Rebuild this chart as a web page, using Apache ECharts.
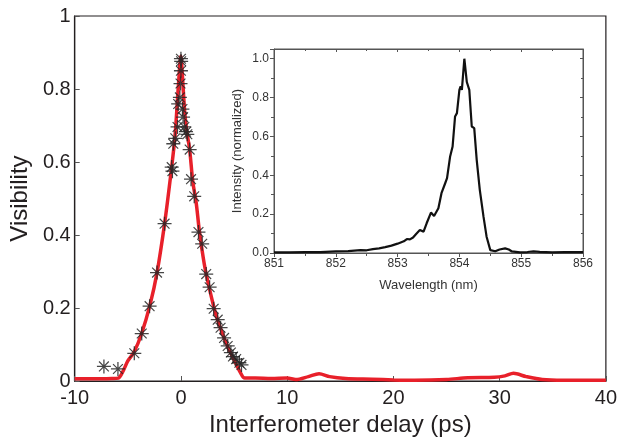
<!DOCTYPE html>
<html>
<head>
<meta charset="utf-8">
<script src="https://cdn.jsdelivr.net/npm/echarts@6/dist/echarts.min.js"></script>
<style>
  html, body { margin: 0; padding: 0; background: #fff; }
  #chart { width: 620px; height: 442px; }
</style>
</head>
<body>
<div id="chart"></div>
<script>
// measured visibility (stars)
var visX = [-7.25, -5.93, -4.39, -3.69, -2.95, -2.25, -1.54, -0.87, -0.80, -0.72, -0.53, -0.32, -0.26, -0.10, -0.04, 0, 0, 0.02,
            0.14, 0.2, 0.32, 0.48, 0.6, 0.82, 0.95, 1.25, 1.65, 2.0, 2.38, 2.7, 3.08, 3.46, 3.73, 4.06, 4.4, 4.7, 4.9, 5.2, 5.5, 5.7];
var visY = [0.040, 0.033, 0.076, 0.130, 0.205, 0.297, 0.431, 0.586, 0.575, 0.650, 0.665, 0.696, 0.759, 0.777, 0.815, 0.850, 0.883, 0.876,
            0.745, 0.723, 0.696, 0.683, 0.676, 0.634, 0.553, 0.506, 0.408, 0.376, 0.293, 0.257, 0.198, 0.168, 0.146, 0.118, 0.096, 0.078, 0.067, 0.060, 0.050, 0.044];

// fitted curve (red)
var fitX = [-10, -8, -6.5, -5.9, -5.4, -5.0, -4.4, -3.7, -2.9, -2.25, -1.54, -0.97, -0.56, -0.26, 0, 0.14, 0.36, 0.57, 0.82, 1.12, 1.43, 1.74, 2.2,
            2.65, 3.26, 3.88, 4.49, 5.1, 5.56, 6.0, 7, 8.5, 10, 10.8, 12, 13, 14, 15.5, 18, 20, 22, 25, 27, 29.5, 30.5, 31.3, 32.5, 34, 36, 40];
var fitY = [0.006, 0.006, 0.007, 0.008, 0.03, 0.055, 0.08, 0.13, 0.21, 0.297, 0.431, 0.562, 0.67, 0.80, 0.89, 0.835, 0.735, 0.68, 0.634, 0.545, 0.49, 0.41, 0.32,
            0.257, 0.185, 0.132, 0.088, 0.052, 0.025, 0.008, 0.008, 0.007, 0.008, 0.004, 0.012, 0.02, 0.012, 0.007, 0.005, 0.003, 0.002, 0.004, 0.009, 0.01, 0.014, 0.021, 0.012, 0.004, 0.002, 0.002];

// inset spectrum
var wl = [851.0, 851.25, 851.5, 851.75, 852.0, 852.2, 852.4, 852.5, 852.6, 852.7, 852.8, 852.9, 853.0, 853.1, 853.15, 853.2, 853.25, 853.3, 853.36,
          853.42, 853.47, 853.54, 853.59, 853.66, 853.71, 853.77, 853.80, 853.85, 853.89, 853.93, 853.96, 854.00, 854.02, 854.04, 854.08, 854.12,
          854.16, 854.20, 854.24, 854.28, 854.33, 854.39, 854.44, 854.50, 854.58, 854.65, 854.74, 854.8, 854.85, 854.98, 855.1, 855.2, 855.3, 855.5, 855.7, 856.0];
var inten = [0.003, 0.003, 0.004, 0.005, 0.008, 0.010, 0.015, 0.014, 0.020, 0.024, 0.030, 0.038, 0.048, 0.060, 0.072, 0.070, 0.080, 0.098, 0.118,
             0.11, 0.153, 0.208, 0.19, 0.23, 0.308, 0.359, 0.385, 0.497, 0.548, 0.703, 0.72, 0.84, 0.857, 0.84, 1.0, 0.88,
             0.84, 0.651, 0.643, 0.479, 0.325, 0.187, 0.084, 0.015, 0.009, 0.018, 0.024, 0.018, 0.008, 0.003, 0.005, 0.008, 0.006, 0.003, 0.004, 0.004];

function pairs(xs, ys) {
    return xs.map(function (x, i) { return [x, ys[i]]; });
}

var star = 'path://M-0.9,-10L0.9,-10L0.9,10L-0.9,10Z M-10,-0.9L10,-0.9L10,0.9L-10,0.9Z ' +
           'M-6.4,-7.6L7.6,6.4L6.4,7.6L-7.6,-6.4Z M-7.6,6.4L6.4,-7.6L7.6,-6.4L-6.4,7.6Z';

var txt = '#231f20';
var font = 'Liberation Sans, Arial, sans-serif';

var option = {
    animation: false,
    backgroundColor: '#fff',
    textStyle: { fontFamily: font },
    grid: [
        { left: 70, right: 10, top: 16, bottom: 54, show: true, borderColor: '#231f20', borderWidth: 1.2 },
        { left: 274, right: 37, top: 49, bottom: 189, show: true, borderColor: '#555', borderWidth: 1, backgroundColor: '#fff' }
    ],
    xAxis: [
        {
            gridIndex: 0, type: 'value', min: -10, max: 40, interval: 10,
            name: 'Interferometer delay (ps)', nameLocation: 'middle', nameGap: 32,
            nameTextStyle: { fontSize: 24, color: txt },
            axisLine: { onZero: false, lineStyle: { color: '#231f20', width: 1.2 } },
            axisTick: { inside: true, length: 5, lineStyle: { color: '#555' } },
            axisLabel: { fontSize: 20, color: txt, margin: 7 },
            splitLine: { show: false }
        },
        {
            gridIndex: 1, type: 'value', min: 851, max: 856, interval: 1,
            name: 'Wavelength (nm)', nameLocation: 'middle', nameGap: 26,
            nameTextStyle: { fontSize: 13, color: '#333' },
            axisLine: { onZero: false, lineStyle: { color: '#555', width: 1 } },
            axisTick: { length: 4, lineStyle: { color: '#555' } },
            minorTick: { show: true, splitNumber: 2, length: 3, lineStyle: { color: '#555' } },
            axisLabel: { fontSize: 12, color: '#333', margin: 5 },
            splitLine: { show: false }
        },
        {
            gridIndex: 1, type: 'value', min: 851, max: 856, interval: 1, position: 'top',
            axisLine: { onZero: false, lineStyle: { color: '#555', width: 1 } },
            axisTick: { inside: true, length: 3, lineStyle: { color: '#555' } },
            minorTick: { show: true, splitNumber: 2, length: 2, lineStyle: { color: '#555' } },
            axisLabel: { show: false },
            splitLine: { show: false }
        }
    ],
    yAxis: [
        {
            gridIndex: 0, type: 'value', min: 0, max: 1, interval: 0.2,
            name: 'Visibility', nameLocation: 'middle', nameGap: 38,
            nameTextStyle: { fontSize: 24, color: txt },
            axisLine: { onZero: false, lineStyle: { color: '#231f20', width: 1.2 } },
            axisTick: { inside: true, length: 5, lineStyle: { color: '#555' } },
            axisLabel: { fontSize: 20, color: txt, margin: 4 },
            splitLine: { show: false }
        },
        {
            gridIndex: 1, type: 'value', min: 0, max: 1.05, interval: 0.2,
            name: 'Intensity (normalized)', nameLocation: 'middle', nameGap: 30,
            nameTextStyle: { fontSize: 13, color: '#333' },
            axisLine: { onZero: false, lineStyle: { color: '#555', width: 1 } },
            axisTick: { length: 4, lineStyle: { color: '#555' } },
            minorTick: { show: true, splitNumber: 2, length: 3, lineStyle: { color: '#555' } },
            axisLabel: { fontSize: 12, color: '#333', margin: 5, showMaxLabel: false,
                formatter: function (v) { return v.toFixed(1); } },
            splitLine: { show: false }
        },
        {
            gridIndex: 1, type: 'value', min: 0, max: 1.05, interval: 0.2, position: 'right',
            axisLine: { onZero: false, lineStyle: { color: '#555', width: 1 } },
            axisTick: { inside: true, length: 3, lineStyle: { color: '#555' } },
            minorTick: { show: true, splitNumber: 2, length: 2, lineStyle: { color: '#555' } },
            axisLabel: { show: false },
            splitLine: { show: false }
        }
    ],
    series: [
        {
            type: 'line', xAxisIndex: 0, yAxisIndex: 0,
            data: pairs(fitX, fitY), smooth: 0.3, showSymbol: false,
            lineStyle: { color: '#e8202a', width: 3.5 }, z: 2
        },
        {
            type: 'scatter', xAxisIndex: 0, yAxisIndex: 0,
            data: pairs(visX, visY), symbol: star, symbolSize: 14,
            itemStyle: { color: '#262626', opacity: 0.85 }, z: 3
        },
        {
            type: 'line', xAxisIndex: 1, yAxisIndex: 1,
            data: pairs(wl, inten), showSymbol: false,
            lineStyle: { color: '#111', width: 2.2 }, z: 4
        }
    ]
};

echarts.init(document.getElementById('chart')).setOption(option);
</script>
</body>
</html>
